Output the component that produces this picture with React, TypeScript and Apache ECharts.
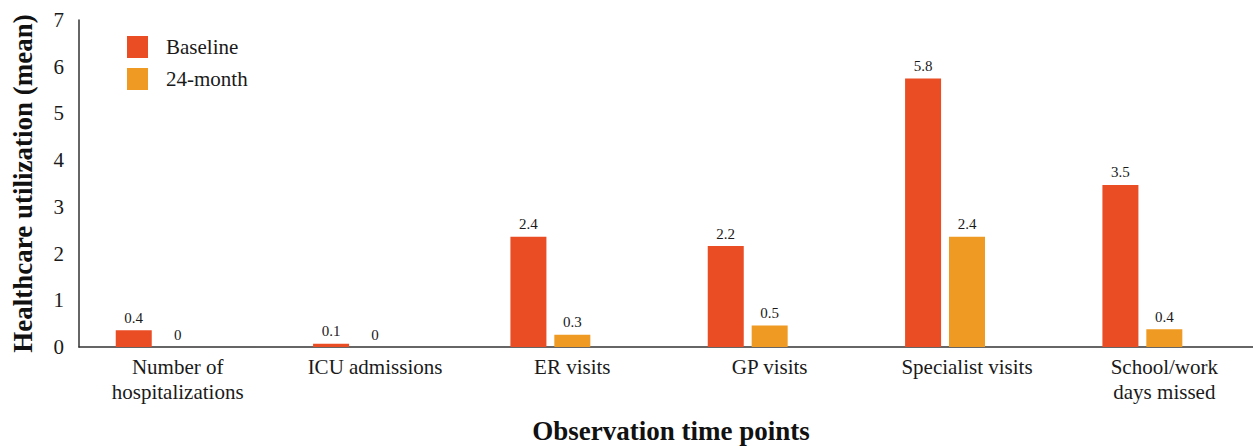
import React, { useEffect, useRef } from "react";
import * as echarts from "echarts";

const categories = [
  "Number of\nhospitalizations",
  "ICU admissions",
  "ER visits",
  "GP visits",
  "Specialist visits",
  "School/work\ndays missed",
];
const baseline = [0.36, 0.07, 2.36, 2.16, 5.75, 3.47];
const month24 = [0, 0, 0.26, 0.46, 2.36, 0.38];
const yTicks = [0, 1, 2, 3, 4, 5, 6, 7];

const FONT = "'Liberation Serif', 'Times New Roman', serif";

export default function App() {
  const ref = useRef<HTMLDivElement>(null);
  useEffect(() => {
    if (!ref.current) return;
    const chart = echarts.init(ref.current, undefined, { renderer: "svg" });
    const label = {
      show: true,
      position: "top" as const,
      distance: 5,
      fontFamily: FONT,
      fontSize: 15,
      color: "#1a1a1a",
      formatter: (p: any) => String(Math.round(p.value * 10) / 10),
    };
    chart.setOption({
      animation: false,
      textStyle: { fontFamily: FONT },
      grid: {
        left: 79,
        right: -10,
        top: 20,
        bottom: 100,
        containLabel: false,
        outerBoundsMode: "none",
      },
      legend: {
        data: ["Baseline", "24-month"],
        orient: "vertical",
        left: 122,
        top: 31,
        itemWidth: 21,
        itemHeight: 22,
        itemGap: 10,
        icon: "rect",
        textStyle: { fontFamily: FONT, fontSize: 21, color: "#1a1a1a", padding: [0, 0, 0, 13] },
      },
      xAxis: {
        type: "category",
        data: categories,
        axisLine: { lineStyle: { color: "#333", width: 1.5 } },
        axisTick: { show: false },
        axisLabel: {
          fontFamily: FONT,
          fontSize: 21,
          color: "#1a1a1a",
          margin: 7,
          lineHeight: 25,
          interval: 0,
        },
        name: "Observation time points",
        nameLocation: "middle",
        nameGap: 70,
        nameTextStyle: { fontFamily: FONT, fontSize: 27, fontWeight: "bold", color: "#111" },
      },
      yAxis: {
        type: "value",
        min: yTicks[0],
        max: yTicks[yTicks.length - 1],
        interval: 1,
        splitLine: { show: false },
        axisLine: { show: true, lineStyle: { color: "#333", width: 1.5 } },
        axisTick: { show: false },
        axisLabel: { fontFamily: FONT, fontSize: 21, color: "#1a1a1a", margin: 15 },
        name: "Healthcare utilization (mean)",
        nameLocation: "middle",
        nameGap: 43,
        nameTextStyle: { fontFamily: FONT, fontSize: 27, fontWeight: "bold", color: "#111" },
      },
      series: [
        {
          name: "Baseline",
          type: "bar",
          data: baseline,
          barWidth: 36,
          barGap: "22%",
          itemStyle: { color: "#EA4D24" },
          label,
        },
        {
          name: "24-month",
          type: "bar",
          data: month24,
          barWidth: 36,
          barGap: "22%",
          itemStyle: { color: "#EF9A22" },
          label,
        },
        {
          name: "spacer",
          type: "bar",
          data: [],
          barWidth: 36,
          barGap: "22%",
        },
      ],
    });
    return () => chart.dispose();
  }, []);
  return (
    <div
      ref={ref}
      style={{ position: "fixed", left: 0, top: 0, width: 1253, height: 447, background: "#fff" }}
    />
  );
}
